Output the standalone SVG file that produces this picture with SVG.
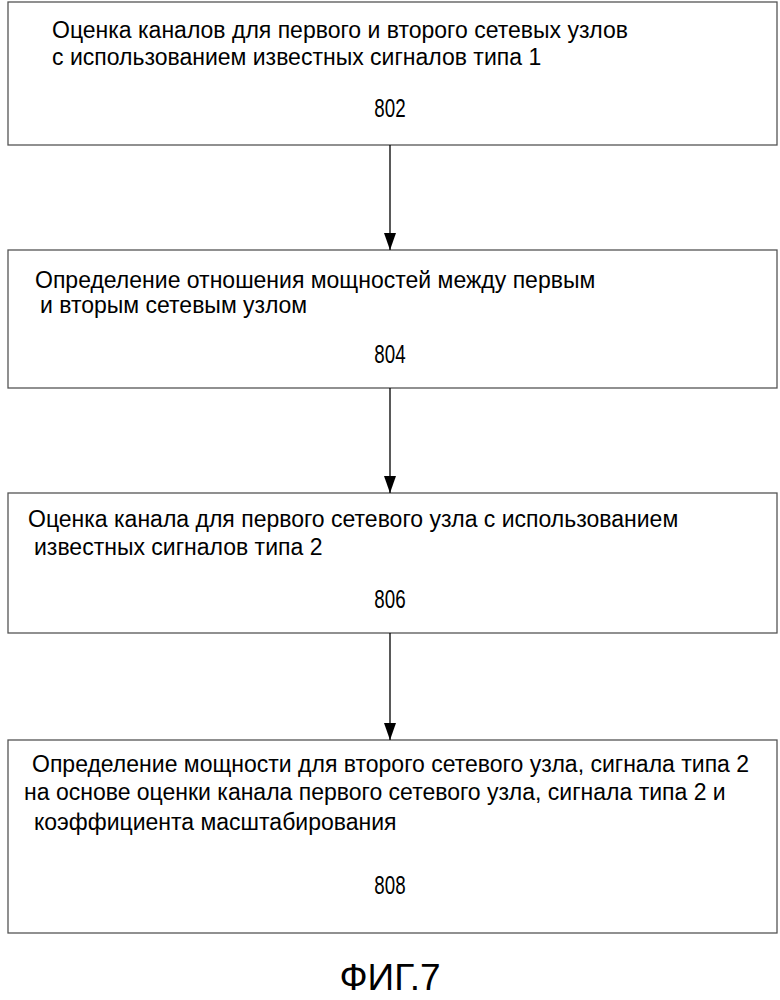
<svg xmlns="http://www.w3.org/2000/svg" width="780" height="1000" viewBox="0 0 780 1000">
<style>
.box{fill:#fff;stroke:#555;stroke-width:1.3}
.t{font-family:"Liberation Sans",Arial,sans-serif;font-size:23px;fill:#000}
.n{font-family:"Liberation Sans",Arial,sans-serif;font-size:25px;fill:#000;text-anchor:middle}
.c{stroke:#000;stroke-width:1.3;fill:none}
</style>
<defs><marker id="a" markerWidth="18" markerHeight="12" refX="17" refY="6" orient="auto" markerUnits="userSpaceOnUse"><path d="M0,0 L17,6 L0,12 Z" fill="#000"/></marker></defs>
<rect width="780" height="1000" fill="#fff"/>
<g id="n802"><rect class="box" x="8" y="2" width="769" height="143"/>
<text class="t" x="52" y="38">Оценка каналов для первого и второго сетевых узлов</text>
<text class="t" x="52" y="65">с использованием известных сигналов типа 1</text>
<text class="n" x="390" y="117" transform="translate(390 0) scale(0.75 1) translate(-390 0)">802</text></g>
<g id="n804"><rect class="box" x="8" y="250" width="769" height="138"/>
<text class="t" x="35" y="288">Определение отношения мощностей между первым</text>
<text class="t" x="40" y="313">и вторым сетевым узлом</text>
<text class="n" x="390" y="363" transform="translate(390 0) scale(0.75 1) translate(-390 0)">804</text></g>
<g id="n806"><rect class="box" x="8" y="493" width="769" height="140"/>
<text class="t" x="28" y="527">Оценка канала для первого сетевого узла с использованием</text>
<text class="t" x="34" y="555">известных сигналов типа 2</text>
<text class="n" x="390" y="608" transform="translate(390 0) scale(0.75 1) translate(-390 0)">806</text></g>
<g id="n808"><rect class="box" x="8" y="740" width="769" height="193"/>
<text class="t" x="32" y="772">Определение мощности для второго сетевого узла, сигнала типа 2</text>
<text class="t" x="24" y="800">на основе оценки канала первого сетевого узла, сигнала типа 2 и</text>
<text class="t" x="34" y="830">коэффициента масштабирования</text>
<text class="n" x="390" y="894" transform="translate(390 0) scale(0.75 1) translate(-390 0)">808</text></g>
<g id="connectors">
<line class="c" x1="390" y1="145" x2="390" y2="250" marker-end="url(#a)"/>
<line class="c" x1="390" y1="388" x2="390" y2="493" marker-end="url(#a)"/>
<line class="c" x1="390" y1="633" x2="390" y2="740" marker-end="url(#a)"/>
</g>
<text x="390" y="990" font-family="Liberation Sans,Arial,sans-serif" font-size="37" text-anchor="middle">ФИГ.7</text>
</svg>
